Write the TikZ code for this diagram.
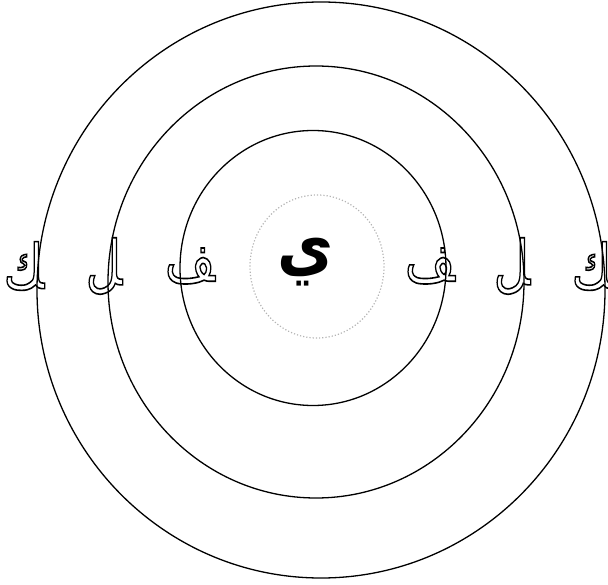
\documentclass[tikz,border=0pt]{standalone}
\usepackage{fontspec}
\TeXXeTstate=1
\newfontfamily\arabicfont[Script=Arabic]{DejaVu Sans}
\newfontfamily\arabicbold[Script=Arabic]{DejaVu Sans Bold}
\definecolor{ring}{HTML}{000000}
\definecolor{dotgray}{HTML}{B4B4B4}
% stroked (hollow) glyphs
\newcommand{\hollow}[1]{\special{pdf:literal direct 1 Tr 1.6 w}#1\special{pdf:literal direct 0 Tr 0.4 w}}
\newcommand{\finalform}[1]{\scalebox{0.78}[1]{\hollow{\arabicfont\beginR\char"200D #1\endR}}}

\begin{document}
\begin{tikzpicture}[x=1pt,y=-1pt]
      \useasboundingbox (0,0) rectangle (608,585);
      \tikzset{
        ringline/.style={ring,line width=1.3pt},
        letter/.style={inner sep=0pt,font=\fontsize{62}{66}\selectfont},
      }

      % rings
      \draw[dotgray,dotted,line width=1.2pt] (317,266.5) ellipse (67 and 71.5);
      \draw[ringline] (313,268) ellipse (133 and 137.5);
      \draw[ringline] (316,282) ellipse (208 and 216);
      \draw[ringline] (321,290) ellipse (284 and 288);

      % centre letter
      \node[inner sep=0pt,font=\fontsize{68}{72}\selectfont] (yeh) at (306,262)
        {\scalebox{0.9}[1]{\arabicbold\beginR ي\endR}};

      % left side
      \node[letter] (kafL) at (24,266) {\finalform{ك}};
      \node[letter] (lamL) at (104,266) {\finalform{ل}};
      \node[letter] (fehL) at (190,266) {\finalform{ف}};

      % right side
      \node[letter] (fehR) at (430,266) {\finalform{ف}};
      \node[letter] (lamR) at (512,266) {\finalform{ل}};
      \node[letter] (kafR) at (592,266) {\finalform{ك}};
    \end{tikzpicture}
\end{document}
